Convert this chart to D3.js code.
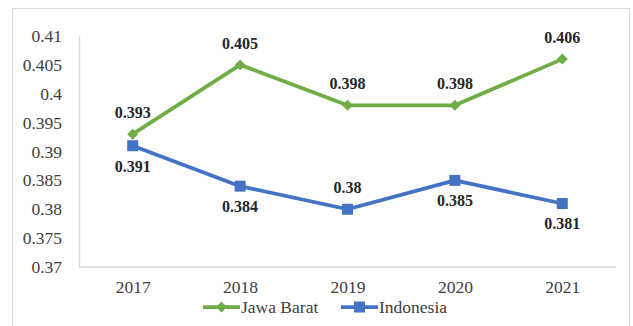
<!DOCTYPE html>
<html>
<head>
<meta charset="utf-8">
<script src="https://cdn.jsdelivr.net/npm/d3@7"></script>
<style>
  body { margin: 0; background: #fff; }
  svg { display: block; }
</style>
</head>
<body>
<svg id="chart" width="633" height="326"></svg>
<script>
// data
var years = ["2017", "2018", "2019", "2020", "2021"];
var jawaBarat = [0.393, 0.405, 0.398, 0.398, 0.406];
var indonesia = [0.391, 0.384, 0.38, 0.385, 0.381];
var yTicks = [0.37, 0.375, 0.38, 0.385, 0.39, 0.395, 0.4, 0.405, 0.41];
// label above (-1) or below (+1) the point
var jbLabelSide = [-1, -1, -1, -1, -1];
var idLabelSide = [1, 1, -1, 1, 1];

var FONT = "Liberation Serif";
var svg = d3.select("#chart").attr("font-family", FONT);

// square diamond (equal diagonals), like the excel marker
var symbolRhombus = {
    draw: function (context, size) {
        var r = Math.sqrt(size / 2);
        context.moveTo(0, -r);
        context.lineTo(r, 0);
        context.lineTo(0, r);
        context.lineTo(-r, 0);
        context.closePath();
    }
};

// outer frame
svg.append("rect")
    .attr("x", 12.5).attr("y", 8.5)
    .attr("width", 617).attr("height", 330)
    .attr("fill", "#fff")
    .attr("stroke", "#d9d9d9");

var plotLeft = 79, plotRight = 616, plotTop = 36, plotBottom = 267;

var x = d3.scalePoint().domain(years).range([plotLeft, plotRight]).padding(0.5);
var y = d3.scaleLinear().domain([0.37, 0.41]).range([plotBottom, plotTop]);

// y axis
var yAxis = svg.append("g")
    .attr("transform", "translate(" + plotLeft + ",0)")
    .call(d3.axisLeft(y).tickValues(yTicks).tickSize(0).tickPadding(17)
        .tickFormat(function (d) { return d3.format("~g")(+d.toFixed(3)); }));
yAxis.attr("font-family", FONT);
yAxis.select(".domain").attr("stroke", "#d9d9d9").attr("stroke-width", 1.5);
yAxis.selectAll("text").attr("font-family", FONT).attr("font-size", 17.5).attr("fill", "#404040");

// x axis
var xAxis = svg.append("g")
    .attr("transform", "translate(0," + plotBottom + ")")
    .call(d3.axisBottom(x).tickSize(0).tickPadding(14));
xAxis.attr("font-family", FONT);
xAxis.select(".domain").attr("d", "M" + plotLeft + ",0H" + plotRight)
    .attr("stroke", "#d9d9d9").attr("stroke-width", 1.5);
xAxis.selectAll("text").attr("font-family", FONT).attr("font-size", 17.5).attr("fill", "#404040");

var line = d3.line()
    .x(function (d, i) { return x(years[i]); })
    .y(function (d) { return y(d); });

var series = [
    { name: "Jawa Barat", values: jawaBarat, color: "#70ad47", symbol: symbolRhombus, size: 60, side: jbLabelSide },
    { name: "Indonesia", values: indonesia, color: "#4472c4", symbol: d3.symbolSquare, size: 121, side: idLabelSide }
];

series.forEach(function (s) {
    svg.append("path")
        .datum(s.values)
        .attr("d", line)
        .attr("fill", "none")
        .attr("stroke", s.color)
        .attr("stroke-width", 3.75)
        .attr("stroke-linejoin", "round");

    svg.selectAll(null)
        .data(s.values)
        .enter().append("path")
        .attr("d", d3.symbol().type(s.symbol).size(s.size))
        .attr("transform", function (d, i) { return "translate(" + x(years[i]) + "," + y(d) + ")"; })
        .attr("fill", s.color);

    svg.selectAll(null)
        .data(s.values)
        .enter().append("text")
        .attr("x", function (d, i) { return x(years[i]); })
        .attr("y", function (d, i) { return y(d) + (s.side[i] < 0 ? -16 : 26); })
        .attr("text-anchor", "middle")
        .attr("font-family", FONT)
        .attr("font-size", 16)
        .attr("font-weight", "bold")
        .attr("fill", "#262626")
        .text(function (d) { return d; });
});

// legend
var legend = svg.append("g").attr("transform", "translate(203,307)");
series.forEach(function (s, i) {
    var g = legend.append("g").attr("transform", "translate(" + (i * 138) + ",0)");
    g.append("line").attr("x1", 0).attr("x2", 37).attr("y1", 0).attr("y2", 0)
        .attr("stroke", s.color).attr("stroke-width", 3.75);
    g.append("path").attr("d", d3.symbol().type(s.symbol).size(s.size))
        .attr("transform", "translate(18.5,0)").attr("fill", s.color);
    g.append("text").attr("x", 38).attr("y", 6)
        .attr("font-family", FONT)
        .attr("font-size", 17.5).attr("fill", "#404040").text(s.name);
});
</script>
</body>
</html>
